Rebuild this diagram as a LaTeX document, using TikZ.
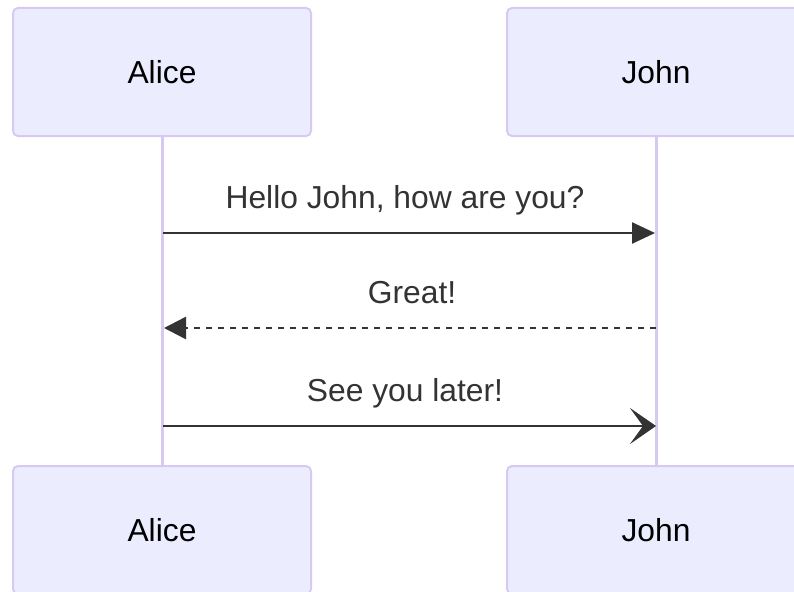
\documentclass[tikz,border=0pt]{standalone}
\usepackage{fontspec}
\setmainfont{Liberation Sans}
\usepackage{xcolor}
\usetikzlibrary{arrows.meta}
\definecolor{actorfill}{HTML}{ECECFF}
\definecolor{actorline}{HTML}{D6CAF2}
\definecolor{msgcolor}{HTML}{333333}
\begin{document}
\begin{tikzpicture}[x=1pt,y=-1pt]
      \tikzstyle{actor}=[draw=actorline, fill=actorfill, line width=2pt,
        rounded corners=5pt, minimum width=298pt, minimum height=128pt,
        inner sep=0pt, font=\fontsize{31.8}{38}\selectfont, text=black];
      \tikzstyle{lifeline}=[draw=actorline, line width=3pt];
      \tikzstyle{msg}=[draw=msgcolor, line width=2.5pt];
      \tikzstyle{msgtext}=[anchor=base, inner sep=0pt, text=msgcolor,
        font=\fontsize{31.8}{38}\selectfont];
      \useasboundingbox (0,0) rectangle (794,591);
      % participants
      \node[style=actor] (aliceTop) at (162,72) {Alice};
      \node[style=actor] (johnTop) at (656,72) {John};
      \node[style=actor] (aliceBot) at (162,530) {Alice};
      \node[style=actor] (johnBot) at (656,530) {John};
      \draw[style=lifeline] (aliceTop.south) -- (aliceBot.north);
      \draw[style=lifeline] (johnTop.south) -- (johnBot.north);
      % messages
      \coordinate (helloA) at (163,233);
      \coordinate (helloJ) at (655,233);
      \coordinate (greatJ) at (656,328);
      \coordinate (greatA) at (164,328);
      \coordinate (laterA) at (163,426);
      \coordinate (laterJ) at (656,426);
      \draw[style=msg, -{Triangle[length=23pt,width=21pt]}] (helloA) -- (helloJ);
      \draw[style=msg, dash pattern=on 6pt off 6pt,
        -{Triangle[length=22pt,width=22pt]}] (greatJ) -- (greatA);
      \draw[style=msg, -{Stealth[length=26pt,width=36pt,inset=13pt]}] (laterA) -- (laterJ);
      \node[style=msgtext] (helloText) at (405,208) {Hello John, how are you?};
      \node[style=msgtext] (greatText) at (412,303) {Great!};
      \node[style=msgtext] (laterText) at (405,401) {See you later!};
    \end{tikzpicture}
\end{document}
